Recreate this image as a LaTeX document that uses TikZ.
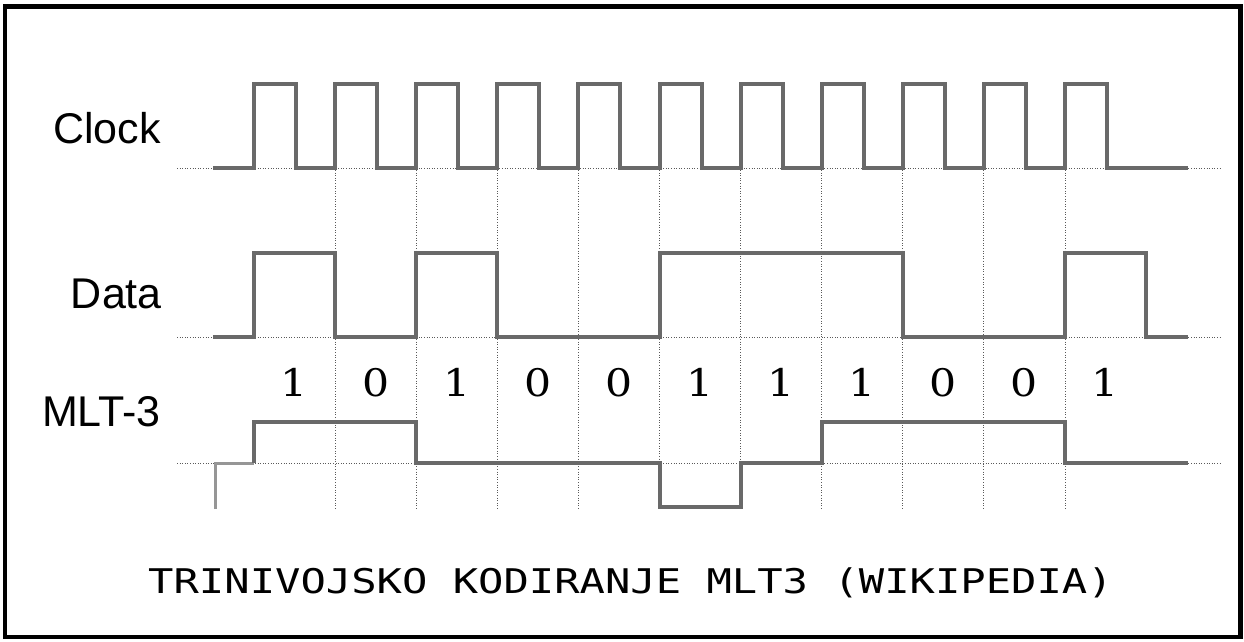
\documentclass[tikz,border=0pt]{standalone}
\usepackage{fontspec}
\setmainfont{Liberation Sans}
\newfontfamily\digfont{DejaVu Serif}
\newfontfamily\titlefont{DejaVu Sans Mono}
\definecolor{wavecol}{RGB}{105,105,105}
\definecolor{startcol}{RGB}{150,150,150}
\definecolor{gridcol}{RGB}{90,90,90}
\begin{document}
\begin{tikzpicture}[x=1pt,y=-1pt,
  wave/.style={draw=wavecol,line width=4pt,line join=miter,line cap=butt},
  startwave/.style={draw=startcol,line width=3pt,line join=miter},
  grid/.style={draw=gridcol,line width=1pt,dash pattern=on 1pt off 1.6pt},
  sig/.style={font=\fontsize{43}{43}\selectfont,inner sep=0pt,anchor=base east},
  bit/.style={font=\digfont\fontsize{38}{38}\selectfont,inner sep=0pt,anchor=base},
  ttl/.style={font=\titlefont\fontsize{34}{34}\selectfont,inner sep=0pt,anchor=base}]
\useasboundingbox (0,0) rectangle (1244,641);
\draw[line width=4.5pt] (5,6.5) rectangle (1240.5,637);
% grid
\foreach \yy in {168,337,463} \draw[grid] (177,\yy) -- (1222,\yy);
\foreach \k in {1,...,10} \draw[grid] ({254+81.1*\k},170) -- ({254+81.1*\k},509);
% clock
\draw[wave] (213,168) foreach \k in {0,...,10} { -- ({254+81.1*\k},168) -- ({254+81.1*\k},84) -- ({296+81.1*\k},84) -- ({296+81.1*\k},168) } -- (1188,168);
% data
\draw[wave] (213,337) -- (254,337) -- (254,253) -- (335.1,253) -- (335.1,337) -- (416.2,337) -- (416.2,253) -- (497.3,253) -- (497.3,337) -- (659.5,337) -- (659.5,253) -- (902.8,253) -- (902.8,337) -- (1065,337) -- (1065,253) -- (1146.1,253) -- (1146.1,337) -- (1188,337);
% MLT-3
\draw[startwave] (215,509) -- (215,463) -- (254,463);
\draw[wave] (254,463) -- (254,422) -- (416.2,422) -- (416.2,463) -- (659.5,463) -- (659.5,507) -- (740.6,507) -- (740.6,463) -- (821.7,463) -- (821.7,422) -- (1065,422) -- (1065,463) -- (1188,463);
% labels
\node[sig] (lclock) at (161,143) {Clock};
\node[sig] (ldata) at (162,308) {Data};
\node[sig] (lmlt) at (161,426) {MLT-3};
\foreach \b [count=\i from 0] in {1,0,1,0,0,1,1,1,0,0,1}
  \node[bit] (b\i) at ({254+81.1*\i+40.5},396) {\scalebox{1.12}[1]{\b}};
\node[ttl] (title) at (630.5,593) {\scalebox{1.24}[1]{TRINIVOJSKO KODIRANJE MLT3 (WIKIPEDIA)}};
\end{tikzpicture}
\end{document}
